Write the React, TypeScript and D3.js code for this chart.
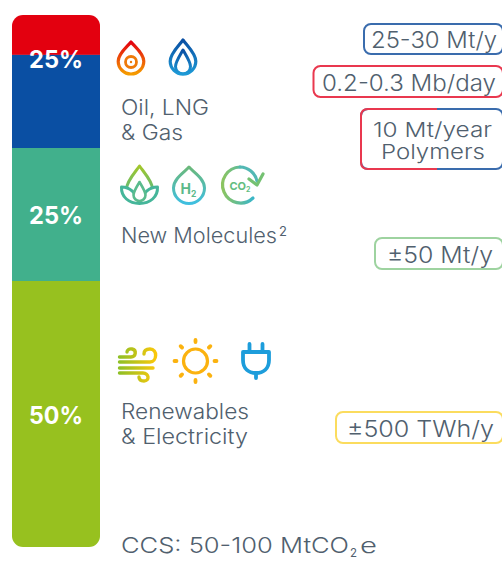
import React from "react";
import * as d3 from "d3";

const segmentNames = ["Oil", "Gas", "New Molecules", "Renewables & Electricity"];
const segmentShares = [7.5, 17.5, 25, 50];
const segmentColors = ["#e3000f", "#0a4fa3", "#41b08c", "#97c11f"];
const shareLabels = ["25%", "25%", "50%"];
const shareLabelValues = [8.4, 37.7, 75.3];
const targetLines = [["25-30 Mt/y"], ["0.2-0.3 Mb/day"], ["10 Mt/year", "Polymers"], ["±50 Mt/y"], ["±500 TWh/y"]];
const targetColors = ["#3a6cad", "#e9384f", "#e9384f", "#9ed3a0", "#fbdc5e"];

const FONT = "'Inter','Open Sans',sans-serif";
const TEXT = "#50606e";

const W = 502, H = 561;
const barX = 12, barW = 88;
const yScale = d3.scaleLinear().domain([0, 100]).range([15, 547]);

const stacked = segmentShares.map((v, i) => {
  const start = d3.sum(segmentShares.slice(0, i));
  return { name: segmentNames[i], color: segmentColors[i], y0: yScale(start), y1: yScale(start + v) };
});

function drop(cx: number, top: number, bottom: number, hw: number) {
  const r = hw;
  const cy = bottom - r;
  const h = cy - top;
  return `M${cx},${top} C${cx + hw * 0.3},${top + h * 0.25} ${cx + hw},${cy - r * 0.6} ${cx + hw},${cy}
    A${r},${r} 0 1 1 ${cx - hw},${cy} C${cx - hw},${cy - r * 0.6} ${cx - hw * 0.3},${top + h * 0.25} ${cx},${top} Z`;
}

function Grad({ id, stops, x2 = 0, y2 = 1 }: { id: string; stops: string[]; x2?: number; y2?: number }) {
  return (
    <linearGradient id={id} x1="0" y1="0" x2={x2} y2={y2}>
      {stops.map((c, i) => <stop key={i} offset={i / (stops.length - 1)} stopColor={c} />)}
    </linearGradient>
  );
}

function Fit({ x, y, w, size, children, weight }: { x: number; y: number; w: number; size: number; children: React.ReactNode; weight?: number }) {
  return (
    <text x={x} y={y} fontSize={size} fontWeight={weight ?? 350} fill={TEXT} textLength={w} lengthAdjust="spacingAndGlyphs">{children}</text>
  );
}

function Target({ i, left, top, bottom, textX, textW }: { i: number; left: number; top: number; bottom: number; textX: number[]; textW: number[] }) {
  const lines = targetLines[i];
  const cy = (top + bottom) / 2;
  const right = 503;
  const split = i === 2;
  return (
    <g>
      <rect x={left} y={top} width={right - left} height={bottom - top} rx={7} fill="#fff"
        stroke={split ? "#3a6cad" : targetColors[i]} strokeWidth={2} />
      {split && (
        <path d={`M437,${top} H${left + 7} Q${left},${top} ${left},${top + 7} V${bottom - 7} Q${left},${bottom} ${left + 7},${bottom} H437`}
          fill="none" stroke={targetColors[i]} strokeWidth={2} />
      )}
      {lines.map((t, k) => (
        <Fit key={k} x={textX[k]} y={cy + 9 + (k - (lines.length - 1) / 2) * 22} w={textW[k]} size={lines.length > 1 ? 20.5 : 22.5}>{t}</Fit>
      ))}
    </g>
  );
}

export default function App() {
  const sunRays = d3.range(8).map(k => (k * Math.PI) / 4);
  return (
    <svg width={W} height={H} viewBox={`0 0 ${W} ${H}`} fontFamily={FONT}
      style={{ position: "absolute", left: 0, top: 0, display: "block", background: "#fff" }}>
      <defs>
        <clipPath id="barClip"><rect x={barX} y={15} width={barW} height={532} rx={11} /></clipPath>
        <Grad id="gOil" stops={["#e3000f", "#f59c00"]} />
        <Grad id="gGas" stops={["#0a4fa3", "#1e9ad6"]} />
        <Grad id="gLotus" stops={["#a3c72a", "#3fb59b"]} />
        <Grad id="gH2" stops={["#6bb87a", "#3fbfe0"]} />
        <Grad id="gCo2" stops={["#8cc460", "#3ab6c8"]} x2={1} y2={0} />
        <linearGradient id="gWind" gradientUnits="userSpaceOnUse" x1={118} y1={0} x2={157} y2={0}>
          <stop offset={0} stopColor="#8cbf26" />
          <stop offset={1} stopColor="#fdc80a" />
        </linearGradient>
      </defs>

      <g clipPath="url(#barClip)">
        {stacked.map(s => (
          <rect key={s.name} x={barX} y={s.y0} width={barW} height={s.y1 - s.y0} fill={s.color} />
        ))}
      </g>
      {shareLabels.map((t, i) => (
        <text key={i} x={29} y={yScale(shareLabelValues[i]) + 8.5} textLength={54} lengthAdjust="spacingAndGlyphs"
          fontSize={24} fontWeight={700} fill="#fff">{t}</text>
      ))}

      {/* Oil & gas icons */}
      <g fill="none">
        <path d={drop(131, 42, 74, 12.8)} stroke="url(#gOil)" strokeWidth={3.2} strokeLinejoin="round" />
        <circle cx={131} cy={62} r={5.5} stroke="#ee7a0a" strokeWidth={2.8} />
        <circle cx={131} cy={62} r={1.2} fill="#ee7a0a" />
        <path d={drop(183, 40, 74, 12.8)} stroke="url(#gGas)" strokeWidth={3.2} strokeLinejoin="round" />
        <path d={drop(183, 50, 74, 7.5)} stroke="url(#gGas)" strokeWidth={3} strokeLinejoin="round" />
      </g>
      <Fit x={121} y={115} w={88} size={21}>Oil, LNG</Fit>
      <Fit x={121} y={140} w={62} size={21}>&amp; Gas</Fit>

      {/* New molecules icons */}
      <g fill="none" strokeLinejoin="round" strokeLinecap="round">
        <path d={drop(139.5, 166, 202, 13)} stroke="url(#gLotus)" strokeWidth={3} />
        <path d="M121.500,187 C130,187 136,193 139.5,203 C143,193 149,187 157.500,187 C158,197 150,203.500 139.5,203.500 C129,203.500 121,197 121.500,187 Z" fill="#fff" stroke="#45b69a" strokeWidth={3} />
        <path d={drop(139.5, 182, 201, 6)} fill="#fff" stroke="#5abb8e" strokeWidth={2.6} />
        <path d={drop(189, 167, 203.500, 15.5)} stroke="url(#gH2)" strokeWidth={3} />
        <path d="M240,167 A18,18 0 1 0 253,198" stroke="url(#gCo2)" strokeWidth={3.2} />
        <path d="M240,167 A18,18 0 0 1 257,181" stroke="#52b8b4" strokeWidth={3.2} />
        <path d="M249,179 L257,185 L263,174" stroke="#74c172" strokeWidth={3.2} />
      </g>
      <text x={188.5} y={194} textAnchor="middle" fontSize={14} fontWeight={700} fill="#5bb98a">H<tspan fontSize={8.5} dy={3}>2</tspan></text>
      <text x={240} y={190} textAnchor="middle" fontSize={11} fontWeight={700} fill="#63bd80">CO<tspan fontSize={7} dy={2}>2</tspan></text>
      <Fit x={121} y={243} w={156} size={21}>New Molecules</Fit>
      <text x={279} y={236} fontSize={13} fill={TEXT}>2</text>

      {/* Renewables icons */}
      <g fill="none" strokeLinecap="round" stroke="url(#gWind)" strokeWidth={3.4}>
        <path d="M119.500,357 H131 C136,357 137,350 132,349 C129,348.500 127,350 127,352" />
        <path d="M119.500,362 H150 C157,362 158,349 150,349 C146,349 144,351 144,354" />
        <path d="M119.500,368 H153" />
        <path d="M119.500,373 H143 C149,373 150,381 144,381 C141,381 139,380 139,377" />
      </g>
      <g fill="none" strokeLinecap="round" stroke="#fbb20f">
        <circle cx={195.500} cy={361} r={12} strokeWidth={3.2} />
        {sunRays.map((a, k) => (
          <line key={k} strokeWidth={3.8}
            x1={195.5 + Math.sin(a) * 19} y1={361 - Math.cos(a) * 19}
            x2={195.5 + Math.sin(a) * 21} y2={361 - Math.cos(a) * 21} />
        ))}
      </g>
      <g fill="none" stroke="#1d9ddb" strokeWidth={3.8} strokeLinecap="round" strokeLinejoin="round">
        <path d="M243,352 H269 V360 C269,369 263,373 256,373 C249,373 243,369 243,360 Z" />
        <path d="M249.500,344 V351 M262.500,344 V351 M256,374 V378" />
      </g>
      <Fit x={121} y={419} w={128} size={21}>Renewables</Fit>
      <Fit x={121} y={444} w={127} size={21}>&amp; Electricity</Fit>

      <Fit x={121} y={553} w={228} size={22}>CCS: 50-100 MtCO</Fit>
      <text x={350} y={557} fontSize={11.5} fill={TEXT}>2</text>
      <Fit x={360} y={553} w={17} size={22}>e</Fit>

      <Target i={0} left={364} top={24} bottom={54} textX={[371]} textW={[126]} />
      <Target i={1} left={313.5} top={66} bottom={97} textX={[322]} textW={[174]} />
      <Target i={2} left={361} top={109} bottom={169} textX={[373, 381]} textW={[119, 104]} />
      <Target i={3} left={375} top={238} bottom={269} textX={[387]} textW={[106]} />
      <Target i={4} left={336} top={412} bottom={443} textX={[347]} textW={[147]} />
    </svg>
  );
}
